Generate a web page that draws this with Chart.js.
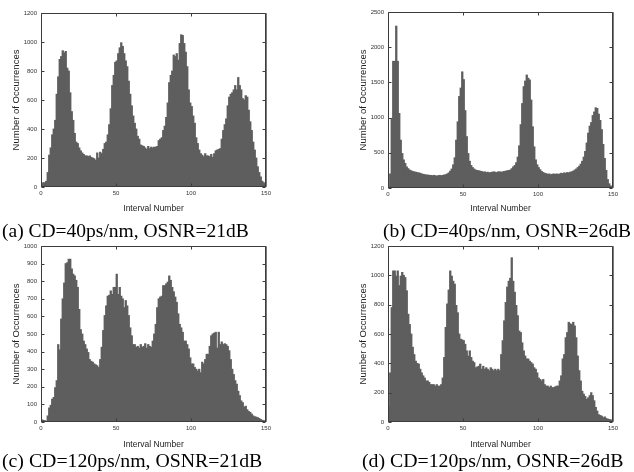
<!DOCTYPE html>
<html>
<head>
<meta charset="utf-8">
<script src="https://cdn.jsdelivr.net/npm/chart.js@4/dist/chart.umd.min.js"></script>
<style>
  html, body { margin: 0; padding: 0; background: #fff; }
  body { width: 634px; height: 472px; position: relative; overflow: hidden; }
  .panel { position: absolute; width: 317px; height: 218px; }
  .cap {
    position: absolute;
    font-family: "Liberation Serif", "Times New Roman", serif;
    font-size: 19.5px;
    line-height: 1;
    white-space: nowrap;
    color: #000;
  }
  .cap.low { font-size: 19.8px; }
</style>
</head>
<body>
<div class="panel" style="left:0;top:0"><canvas id="histA" width="317" height="218"></canvas></div>
<div class="panel" style="left:317px;top:0"><canvas id="histB" width="317" height="218"></canvas></div>
<div class="panel" style="left:0;top:236px"><canvas id="histC" width="317" height="218"></canvas></div>
<div class="panel" style="left:317px;top:236px"><canvas id="histD" width="317" height="218"></canvas></div>

<div class="cap" style="left:2px;top:221px">(a) CD=40ps/nm, OSNR=21dB</div>
<div class="cap" style="left:383px;top:221px">(b) CD=40ps/nm, OSNR=26dB</div>
<div class="cap low" style="left:2px;top:451px">(c) CD=120ps/nm, OSNR=21dB</div>
<div class="cap low" style="left:362px;top:451px">(d) CD=120ps/nm, OSNR=26dB</div>

<script>
// Interval-number axis (150 bins)
const intervalMin = 0;
const intervalMax = 150;
const intervalStep = 50;

// (a) CD=40ps/nm, OSNR=21dB
const countsA = [
  15, 30, 30, 40, 100, 220, 270, 360, 400, 460,
  640, 760, 880, 900, 940, 925, 935, 820, 800, 650,
  520, 460, 370, 310, 300, 270, 250, 235, 225, 215,
  215, 210, 215, 205, 200, 195, 185, 235, 200, 240,
  230, 260, 300, 310, 360, 430, 540, 700, 770, 860,
  870, 920, 960, 995, 970, 920, 870, 830, 730, 640,
  560, 490, 440, 400, 350, 330, 290, 285, 280, 270,
  260, 280, 265, 275, 270, 275, 275, 280, 320, 330,
  340, 390, 420, 480, 580, 720, 770, 800, 910, 900,
  920, 875, 990, 1050, 1045, 990, 930, 830, 670, 580,
  555, 490, 440, 340, 300, 255, 230, 220, 210, 230,
  215, 215, 210, 225, 205, 230, 250, 255, 260, 265,
  330, 390, 430, 470, 560, 620, 640, 650, 670, 700,
  670, 755, 700, 670, 610, 600, 630, 620, 530, 450,
  390, 310, 255, 200, 140, 100, 70, 40, 30, 20
];
const ticksA = { max: 1200, step: 200 };

// (b) CD=40ps/nm, OSNR=26dB
const countsB = [
  20, 200, 990, 1800, 1800, 2300, 1800, 1060, 680, 490,
  400, 350, 300, 275, 255, 245, 235, 230, 225, 220,
  215, 210, 200, 195, 190, 185, 185, 180, 180, 175,
  180, 175, 170, 175, 180, 175, 180, 185, 190, 200,
  215, 240, 270, 330, 430, 680, 940, 1300, 1420, 1650,
  1540, 1100, 730, 490, 380, 320, 290, 270, 255, 250,
  245, 240, 235, 225, 230, 220, 225, 215, 220, 225,
  230, 225, 220, 230, 230, 225, 230, 235, 240, 245,
  250, 255, 275, 300, 320, 360, 440, 600, 900, 1200,
  1440, 1520, 1605, 1560, 1535, 1250, 870, 585, 400, 330,
  290, 260, 235, 220, 210, 205, 195, 200, 190, 195,
  200, 195, 200, 195, 200, 210, 205, 215, 210, 220,
  215, 225, 230, 240, 255, 270, 290, 310, 340, 380,
  440, 520, 640, 780, 880, 930, 1030, 1080, 1140, 1130,
  1050, 960, 830, 620, 420, 250, 120, 60, 30, 10
];
const ticksB = { max: 2500, step: 500 };

// (c) CD=120ps/nm, OSNR=21dB
const countsC = [
  12, 10, 8, 5, 35, 80, 95, 130, 140, 195,
  235, 440, 410, 585, 700, 790, 900, 905, 925, 925,
  870, 840, 830, 805, 765, 640, 525, 500, 460, 440,
  415, 395, 355, 345, 340, 330, 325, 320, 310, 355,
  425, 520, 605, 660, 715, 720, 745, 725, 765, 765,
  840, 725, 765, 715, 700, 650, 690, 660, 605, 535,
  490, 440, 440, 425, 430, 420, 440, 425, 430, 445,
  420, 440, 430, 425, 460, 500, 555, 650, 700, 710,
  715, 775, 775, 785, 795, 830, 805, 765, 740, 710,
  680, 615, 555, 535, 510, 460, 460, 440, 415, 365,
  330, 330, 310, 300, 290, 300, 280, 340, 330, 355,
  385, 385, 430, 490, 500, 505, 510, 420, 510, 440,
  455, 440, 445, 440, 430, 405, 355, 300, 270, 235,
  215, 175, 150, 120, 110, 85, 90, 70, 60, 55,
  45, 35, 30, 28, 25, 20, 15, 10, 8, 5
];
const ticksC = { max: 1000, step: 100 };

// (d) CD=120ps/nm, OSNR=26dB
const countsD = [
  110, 335, 780, 1030, 1030, 995, 1030, 930, 995, 1020,
  1000, 985, 895, 735, 665, 600, 510, 460, 415, 400,
  395, 360, 335, 315, 300, 280, 280, 270, 255, 255,
  255, 245, 255, 245, 245, 255, 300, 440, 645, 805,
  900, 1030, 995, 960, 940, 795, 745, 600, 565, 560,
  555, 530, 485, 450, 485, 440, 415, 405, 370, 375,
  380, 395, 360, 380, 360, 370, 360, 350, 370, 360,
  350, 360, 350, 360, 350, 460, 555, 690, 815, 920,
  960, 980, 1120, 960, 885, 795, 725, 620, 610, 540,
  485, 450, 430, 430, 415, 405, 395, 370, 360, 335,
  300, 290, 280, 290, 255, 245, 245, 235, 245, 235,
  235, 240, 245, 245, 280, 315, 430, 460, 575, 610,
  680, 670, 665, 680, 655, 575, 450, 350, 280, 210,
  190, 175, 155, 165, 180, 200, 180, 145, 100, 75,
  50, 45, 40, 30, 35, 25, 20, 18, 15, 10
];
const ticksD = { max: 1200, step: 200 };

const BAR_COLOR = '#5e5e5e';
const AXIS_COLOR = '#3c3c3c';
const LABEL_FONT = { family: '"Liberation Sans", Arial, sans-serif', size: 6 };
const plainNumber = v => String(v);

// Box frame with inward-pointing tick marks on all four sides
const framePlugin = {
  id: 'frame',
  afterDatasetsDraw(chart) {
    const { ctx, chartArea: a, scales } = chart;
    const sx = scales.x, sy = scales.y;
    const snap = v => Math.round(v) + 0.5;
    const L = snap(a.left), R = snap(a.right) - 1, T = snap(a.top), B = snap(a.bottom) - 1;
    const len = 3;
    ctx.save();
    ctx.strokeStyle = AXIS_COLOR;
    ctx.lineWidth = 1;
    ctx.beginPath();
    ctx.rect(L, T, R - L, B - T);
    sx.ticks.forEach(t => {
      const px = snap(sx.getPixelForValue(t.value));
      ctx.moveTo(px, B); ctx.lineTo(px, B - len);
      ctx.moveTo(px, T); ctx.lineTo(px, T + len);
    });
    sy.ticks.forEach(t => {
      const py = snap(sy.getPixelForValue(t.value));
      ctx.moveTo(L, py); ctx.lineTo(L + len, py);
      ctx.moveTo(R, py); ctx.lineTo(R - len, py);
    });
    ctx.stroke();
    // slightly heavier grey right edge
    ctx.beginPath();
    ctx.strokeStyle = '#7a7a7a';
    ctx.moveTo(R + 1, T); ctx.lineTo(R + 1, B);
    ctx.stroke();
    ctx.restore();
  }
};

function histogram(canvasId, counts, yTicks, area, yTitleX) {
  const W = 317, H = 218;
  const points = counts.map((c, i) => ({ x: i + 0.5, y: c }));
  return new Chart(document.getElementById(canvasId), {
    type: 'bar',
    data: {
      datasets: [{
        data: points,
        backgroundColor: BAR_COLOR,
        borderColor: BAR_COLOR,
        borderWidth: 0,
        inflateAmount: 0.4,
        barPercentage: 1,
        categoryPercentage: 1,
        grouped: false
      }]
    },
    options: {
      responsive: false,
      animation: false,
      events: [],
      layout: { padding: { left: 0, top: area.top, right: W - area.right, bottom: 0 } },
      plugins: { legend: { display: false }, tooltip: { enabled: false } },
      scales: {
        x: {
          type: 'linear',
          min: intervalMin,
          max: intervalMax,
          offset: false,
          grid: { display: false, drawTicks: false },
          border: { display: false },
          ticks: {
            stepSize: intervalStep,
            maxRotation: 0,
            autoSkip: false,
            padding: 3,
            color: '#333',
            font: LABEL_FONT,
            callback: plainNumber
          },
          title: {
            display: true,
            text: 'Interval Number',
            color: '#222',
            font: { family: '"Liberation Sans", Arial, sans-serif', size: 8.5 },
            padding: { top: 0, bottom: area.xTitleBottom }
          },
          afterFit(s) { s.height = H - area.bottom; s.paddingLeft = 0; s.paddingRight = 0; }
        },
        y: {
          min: 0,
          max: yTicks.max,
          grid: { display: false, drawTicks: false },
          border: { display: false },
          ticks: {
            stepSize: yTicks.step,
            padding: 4,
            color: '#333',
            font: LABEL_FONT,
            callback: plainNumber
          },
          title: {
            display: true,
            text: 'Number of Occurrences',
            color: '#222',
            font: { family: '"Liberation Sans", Arial, sans-serif', size: 9.5 },
            padding: { top: yTitleX - 5.7, bottom: 0 }
          },
          afterFit(s) { s.width = area.left; s.paddingTop = 0; s.paddingBottom = 0; }
        }
      }
    },
    plugins: [framePlugin]
  });
}

histogram('histA', countsA, ticksA, { left: 41, top: 13, right: 266, bottom: 187, xTitleBottom: 4 }, 16.5);
histogram('histB', countsB, ticksB, { left: 71, top: 12, right: 296, bottom: 188, xTitleBottom: 4 }, 46.5);
histogram('histC', countsC, ticksC, { left: 41, top: 10, right: 266, bottom: 186, xTitleBottom: 4 }, 16.5);
histogram('histD', countsD, ticksD, { left: 71, top: 10, right: 296, bottom: 186, xTitleBottom: 4 }, 46.5);
</script>
</body>
</html>
